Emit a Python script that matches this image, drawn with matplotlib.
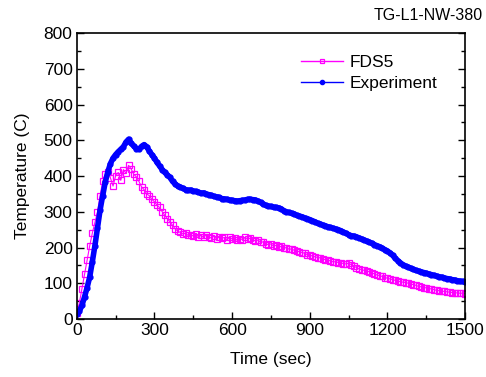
import matplotlib
matplotlib.use("Agg")
import matplotlib.pyplot as plt
from matplotlib.ticker import MultipleLocator

plt.rcParams['font.family'] = ['Liberation Sans', 'DejaVu Sans']

# time axis (sec), every 10 s
time = list(range(0, 1510, 10))

exp_temp = [15, 22, 38, 62, 88, 118, 160, 205, 255, 305,
            345, 383, 412, 435, 450, 460, 468, 475, 482, 495,
            503, 492, 484, 477, 475, 483, 488, 482, 470, 460,
            450, 438, 428, 418, 410, 403, 396, 385, 378, 372,
            369, 366, 362, 360, 361, 358, 357, 355, 352, 353,
            350, 348, 346, 343, 342, 340, 337, 336, 335, 333,
            332, 331, 330, 331, 332, 333, 335, 335, 334, 333,
            330, 326, 322, 318, 316, 315, 313, 312, 311, 308,
            303, 300, 298, 296, 294, 290, 288, 286, 283, 281,
            278, 275, 272, 268, 266, 263, 261, 258, 256, 254,
            252, 250, 247, 243, 240, 236, 233, 232, 230, 227,
            224, 221, 218, 215, 212, 208, 205, 202, 198, 194,
            190, 185, 178, 170, 163, 157, 152, 148, 145, 142,
            139, 136, 134, 132, 130, 128, 126, 124, 122, 120,
            118, 117, 115, 113, 112, 110, 109, 107, 106, 105,
            104]

fds_temp = [18, 45, 85, 125, 165, 205, 240, 270, 300, 345,
            385, 405, 412, 395, 372, 400, 410, 388, 418, 408,
            430, 420, 405, 398, 385, 370, 362, 350, 345, 335,
            328, 318, 312, 300, 290, 280, 272, 262, 252, 246,
            242, 238, 240, 234, 236, 232, 238, 230, 234, 228,
            236, 230, 226, 232, 224, 230, 226, 228, 222, 229,
            224, 226, 220, 225, 222, 228, 224, 226, 222, 218,
            221, 214, 216, 210, 208, 210, 204, 206, 201, 203,
            198, 200, 195, 196, 192, 190, 188, 186, 184, 180,
            179, 176, 174, 172, 171, 168, 166, 165, 162, 160,
            160, 158, 157, 155, 154, 156, 152, 148, 144, 140,
            138, 136, 134, 132, 129, 126, 123, 121, 119, 116,
            114, 112, 110, 108, 106, 104, 103, 102, 100, 98,
            96, 94, 91, 90, 88, 87, 85, 84, 82, 80,
            79, 78, 77, 76, 75, 74, 73, 73, 72, 72,
            71]

fig = plt.figure(figsize=(4.86, 3.77), dpi=100)
ax = fig.add_axes([0.158, 0.154, 0.799, 0.758])

ax.plot(time, fds_temp, color='#ff00ff', lw=0.8, marker='s', ms=4,
        mfc='none', mec='#ff00ff', mew=0.9, label='FDS5')
ax.plot(time, exp_temp, color='#0000ff', lw=4, marker='o', ms=3.5,
        mfc='#0000ff', mec='#0000ff', label='Experiment')

ax.set_xlim(0, 1500)
ax.set_ylim(0, 800)
ax.xaxis.set_major_locator(MultipleLocator(300))
ax.xaxis.set_minor_locator(MultipleLocator(150))
ax.yaxis.set_major_locator(MultipleLocator(100))
ax.yaxis.set_minor_locator(MultipleLocator(50))
ax.tick_params(which='both', direction='in', top=False, right=True,
               labelsize=12.5, width=1)
ax.tick_params(which='major', length=5, pad=3)
ax.tick_params(which='minor', length=3)
for s in ax.spines.values():
    s.set_linewidth(1.2)

ax.set_xlabel('Time (sec)', fontsize=12.5, labelpad=10)
ax.set_ylabel('Temperature (C)', fontsize=12.5, labelpad=10)
fig.text(0.993, 0.98, 'TG-L1-NW-380', ha='right', va='top', fontsize=11.5)

leg = ax.legend(loc='upper right', bbox_to_anchor=(0.97, 0.98), frameon=False,
                fontsize=12.5, handlelength=2.4, handletextpad=0.4,
                labelspacing=0.35)
for h in leg.get_lines():
    h.set_linewidth(1)
    h.set_markersize(3)

fig.savefig('out.png', dpi=100)
